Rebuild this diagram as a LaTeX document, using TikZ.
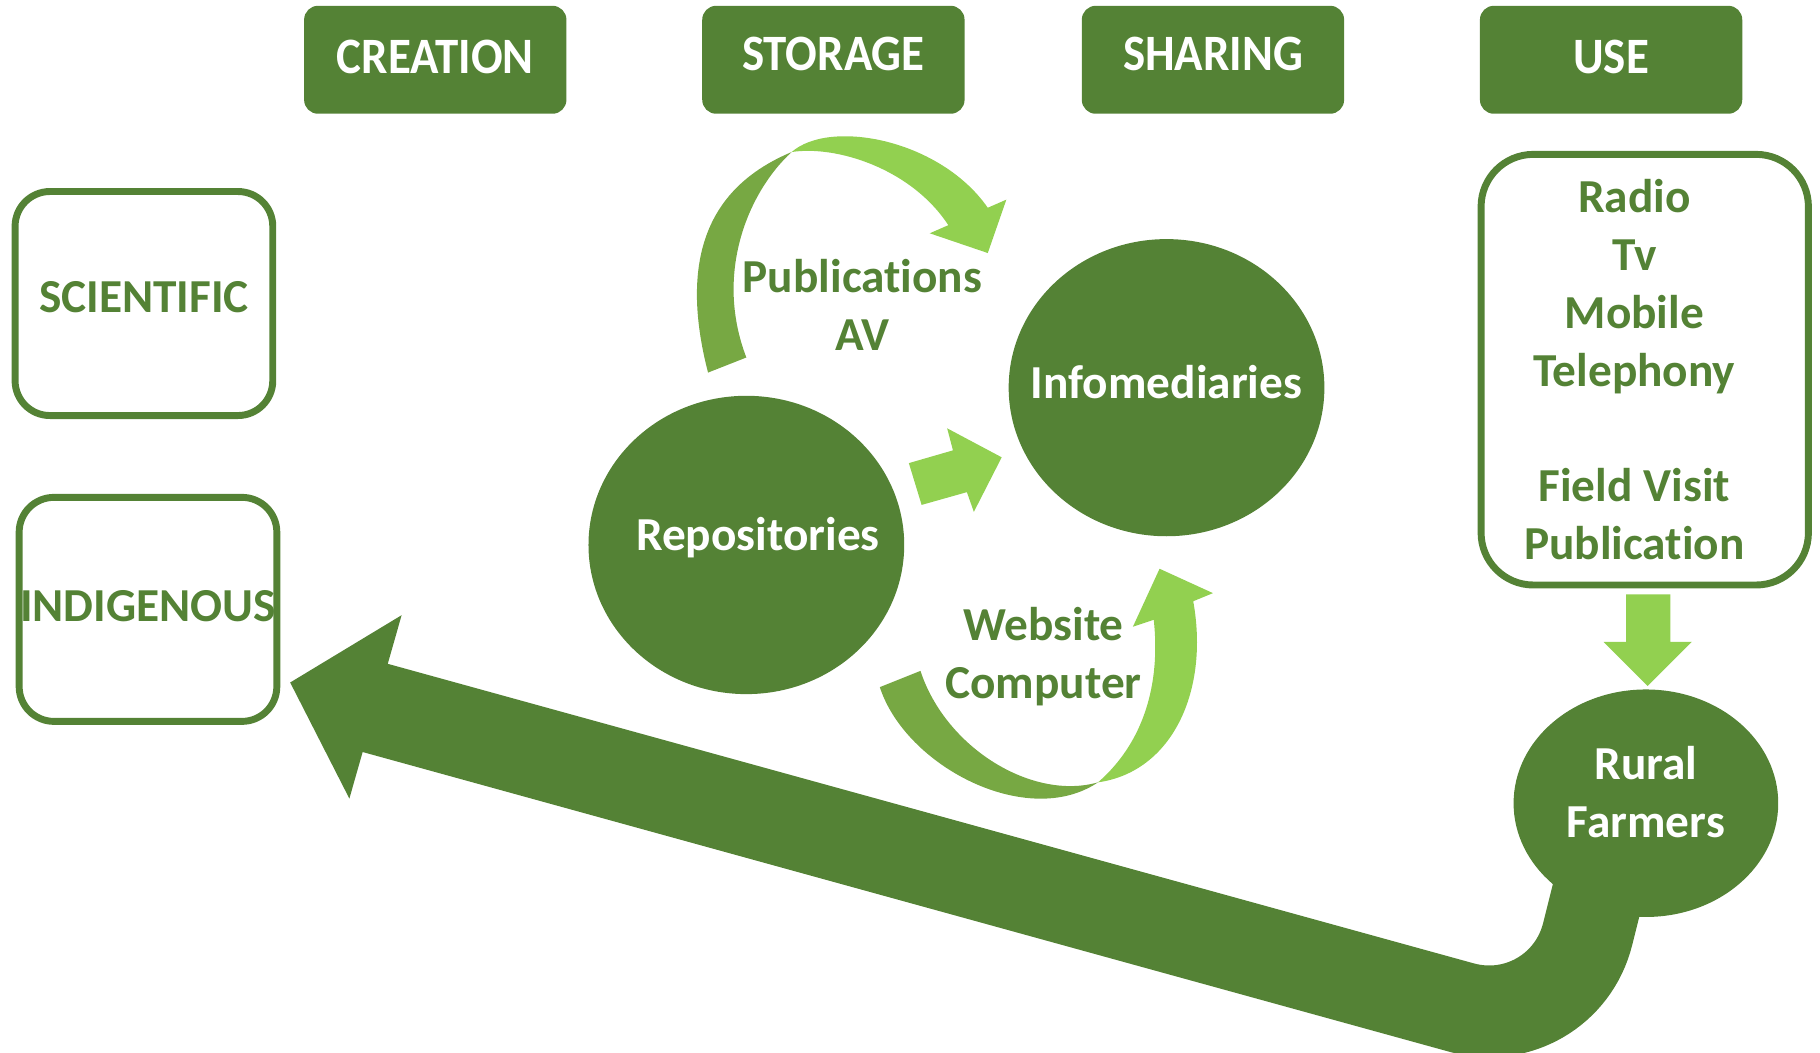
\documentclass[tikz,border=0pt]{standalone}
\usepackage{fontspec}
\setmainfont{Carlito}[Ligatures=NoCommon]
\newfontfamily\headfont[FakeStretch=0.92]{Carlito}
\usetikzlibrary{shapes.geometric}

\definecolor{dkgreen}{HTML}{548235}
\definecolor{mdgreen}{HTML}{77A843}
\definecolor{ltgreen}{HTML}{92D050}

\tikzset{
  headbox/.style={fill=dkgreen, rounded corners=0.12cm, minimum width=2.26cm, minimum height=0.93cm, text depth=0.06cm, text=white, font=\headfont\bfseries\fontsize{12.5}{15}\selectfont},
  kindbox/.style={draw=dkgreen, line width=1.7pt, rounded corners=0.3cm, minimum width=2.22cm, minimum height=1.93cm, text depth=0.06cm, text=dkgreen, font=\bfseries\fontsize{11.6}{14.2}\selectfont},
  listbox/.style={draw=dkgreen, line width=1.7pt, rounded corners=0.45cm, minimum width=2.82cm, minimum height=3.71cm},
  listtext/.style={align=center, text=dkgreen, font=\bfseries\fontsize{11.6}{14.2}\selectfont},
  hub/.style={ellipse, fill=dkgreen, inner sep=0pt},
  hubtext/.style={align=center, text=white, font=\bfseries\fontsize{11.6}{14.2}\selectfont},
  flowtext/.style={align=center, text=dkgreen, font=\bfseries\fontsize{11.6}{14.2}\selectfont},
  loopband/.style={dkgreen, line width=0.79cm, rounded corners=0.9cm}
}

\begin{document}
\begin{tikzpicture}

\useasboundingbox (0,0) rectangle (15.68,-9.07);

% Return to creation
\coordinate (loopin) at (13.89,-7.20);
\coordinate (loopturn) at (13.46,-8.92);
\coordinate (loopend) at (3.20,-6.09);
\draw[loopband] (loopin) -- (loopturn) -- (loopend);
\fill[dkgreen] (2.50,-5.88) -- (3.46,-5.30) -- (3.01,-6.88) -- cycle;

% Headers
\node[headbox] (creation) at (3.75,-0.515) {CREATION};
\node[headbox, text depth=0.1cm] (storage) at (7.18,-0.515) {STORAGE};
\node[headbox, text depth=0.1cm] (sharing) at (10.45,-0.515) {SHARING};
\node[headbox] (use) at (13.88,-0.515) {USE};

% Kinds of knowledge
\node[kindbox, text depth=0.12cm] (scientific) at (1.24,-2.615) {SCIENTIFIC};
\node[kindbox] (indigenous) at (1.275,-5.25) {\makebox[0pt]{INDIGENOUS}};

% Circles
\node[hub, minimum width=2.72cm, minimum height=2.57cm, label={[hubtext, xshift=0.1cm, yshift=0.06cm]center:Repositories}] (repos) at (6.43,-4.695) {};
\node[hub, minimum width=2.72cm, minimum height=2.56cm, label={[hubtext, yshift=0.05cm]center:Infomediaries}] (infomed) at (10.05,-3.34) {};
\node[hub, minimum width=2.28cm, minimum height=1.96cm, label={[hubtext, yshift=0.1cm]center:{Rural\\Farmers}}] (farmers) at (14.18,-6.92) {};

% Channels
\node[listbox, label={[listtext, xshift=-0.09cm]center:{Radio\\Tv\\Mobile\\Telephony\\[14.2pt]Field Visit\\Publication}}] (uselist) at (14.17,-3.185) {};

% Top ribbon
\fill[mdgreen] (6.10,-3.21) .. controls (5.80,-2.05) and (6.25,-1.55) .. (6.82,-1.31) .. controls (6.45,-1.65) and (6.15,-2.35) .. (6.43,-3.08) -- cycle;
\fill[ltgreen] (6.82,-1.31) .. controls (7.15,-1.02) and (8.10,-1.20) .. (8.51,-1.79) -- (8.67,-1.72) -- (8.51,-2.18) -- (8.01,-2.01) -- (8.17,-1.94) .. controls (7.85,-1.45) and (7.20,-1.25) .. (6.82,-1.31) -- cycle;
\node[flowtext] (pubtext) at (7.43,-2.625) {Publications\\AV};

% Bottom ribbon
\fill[mdgreen] (7.58,-5.92) .. controls (7.80,-6.60) and (8.85,-7.15) .. (9.46,-6.74) .. controls (8.90,-6.90) and (8.15,-6.45) .. (7.93,-5.78) -- cycle;
\fill[ltgreen] (9.46,-6.74) .. controls (10.10,-6.65) and (10.42,-5.95) .. (10.28,-5.18) -- (10.45,-5.11) -- (9.99,-4.90) -- (9.76,-5.40) -- (9.94,-5.34) .. controls (10.0,-5.90) and (9.85,-6.40) .. (9.46,-6.74) -- cycle;
\node[flowtext] (webtext) at (8.99,-5.66) {Website\\Computer};

% Straight arrows
\fill[ltgreen] (7.83,-3.99) -- (8.21,-3.88) -- (8.16,-3.69) -- (8.63,-3.94) -- (8.39,-4.41) -- (8.33,-4.24) -- (7.94,-4.35) -- cycle;
\fill[ltgreen] (14.01,-5.12) -- (14.39,-5.12) -- (14.39,-5.53) -- (14.575,-5.53) -- (14.195,-5.91) -- (13.815,-5.53) -- (14.01,-5.53) -- cycle;

\end{tikzpicture}
\end{document}
